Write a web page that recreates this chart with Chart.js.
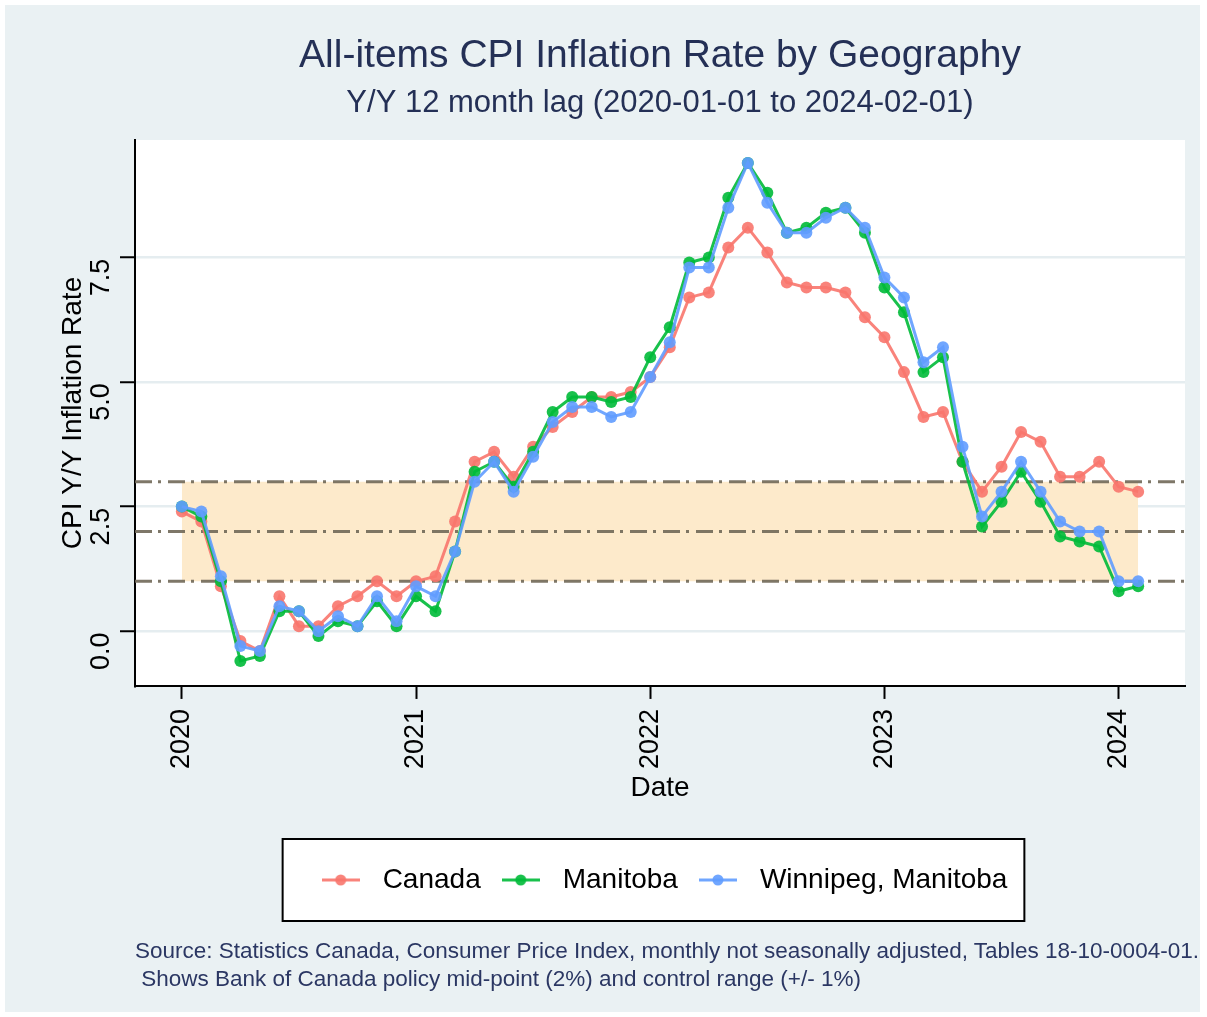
<!DOCTYPE html>
<html>
<head>
<meta charset="utf-8">
<title>All-items CPI Inflation Rate by Geography</title>
<script src="https://cdn.jsdelivr.net/npm/chart.js@4.4.1/dist/chart.umd.min.js"></script>
<style>
  body { margin: 0; width: 1207px; height: 1017px; overflow: hidden; position: relative; background: #fff;
         font-family: "Liberation Sans", Arial, sans-serif; }
  #bg { position: absolute; left: 5px; top: 5px; width: 1195px; height: 1007px; background: #eaf1f3; }
  #wrap { position: absolute; left: 0; top: 0; width: 1207px; height: 940px; }
  #source { position: absolute; left: 135px; top: 937px; font-size: 22.5px; line-height: 28px;
            color: #2b3763; white-space: pre; }
</style>
</head>
<body>
<div id="bg"></div>
<div id="wrap"><canvas id="cpiChart"></canvas></div>
<div id="source">Source: Statistics Canada, Consumer Price Index, monthly not seasonally adjusted, Tables 18-10-0004-01.
 Shows Bank of Canada policy mid-point (2%) and control range (+/- 1%)</div>

<script>
// ---------------- data ----------------
const months = [
  "2020-01", "2020-02", "2020-03", "2020-04", "2020-05", "2020-06", "2020-07", "2020-08", "2020-09", "2020-10", "2020-11", "2020-12",
  "2021-01", "2021-02", "2021-03", "2021-04", "2021-05", "2021-06", "2021-07", "2021-08", "2021-09", "2021-10", "2021-11", "2021-12",
  "2022-01", "2022-02", "2022-03", "2022-04", "2022-05", "2022-06", "2022-07", "2022-08", "2022-09", "2022-10", "2022-11", "2022-12",
  "2023-01", "2023-02", "2023-03", "2023-04", "2023-05", "2023-06", "2023-07", "2023-08", "2023-09", "2023-10", "2023-11", "2023-12",
  "2024-01", "2024-02"
];

const canada = [
  2.4, 2.2, 0.9, -0.2, -0.4, 0.7, 0.1, 0.1, 0.5, 0.7, 1.0, 0.7,
  1.0, 1.1, 2.2, 3.4, 3.6, 3.1, 3.7, 4.1, 4.4, 4.7, 4.7, 4.8,
  5.1, 5.7, 6.7, 6.8, 7.7, 8.1, 7.6, 7.0, 6.9, 6.9, 6.8, 6.3,
  5.9, 5.2, 4.3, 4.4, 3.4, 2.8, 3.3, 4.0, 3.8, 3.1, 3.1, 3.4,
  2.9, 2.8
];

const manitoba = [
  2.5, 2.3, 1.0, -0.6, -0.5, 0.4, 0.4, -0.1, 0.2, 0.1, 0.6, 0.1,
  0.7, 0.4, 1.6, 3.2, 3.4, 2.9, 3.6, 4.4, 4.7, 4.7, 4.6, 4.7,
  5.5, 6.1, 7.4, 7.5, 8.7, 9.4, 8.8, 8.0, 8.1, 8.4, 8.5, 8.0,
  6.9, 6.4, 5.2, 5.5, 3.4, 2.1, 2.6, 3.2, 2.6, 1.9, 1.8, 1.7,
  0.8, 0.9
];

const winnipeg = [
  2.5, 2.4, 1.1, -0.3, -0.4, 0.5, 0.4, 0.0, 0.3, 0.1, 0.7, 0.2,
  0.9, 0.7, 1.6, 3.0, 3.4, 2.8, 3.5, 4.2, 4.5, 4.5, 4.3, 4.4,
  5.1, 5.8, 7.3, 7.3, 8.5, 9.4, 8.6, 8.0, 8.0, 8.3, 8.5, 8.1,
  7.1, 6.7, 5.4, 5.7, 3.7, 2.3, 2.8, 3.4, 2.8, 2.2, 2.0, 2.0,
  1.0, 1.0
];

const seriesNames = ["Canada", "Manitoba", "Winnipeg, Manitoba"];
const yearTicks = [0, 12, 24, 36, 48];          // month index of each January
const yearLabels = ["2020", "2021", "2022", "2023", "2024"];
const rateTicks = [0, 2.5, 5, 7.5];
const controlRange = [1, 3];
const midPoint = 2;
const xRange = [-2.4, 51.4];
const yRange = [-1.1, 9.86];

// ---------------- styles ----------------
const colors = ["rgba(248,118,109,0.9)", "rgba(0,186,56,0.9)", "rgba(97,156,255,0.9)"];
const bandColor = "#fdeacb";
const refLineColor = "rgba(112,104,88,0.9)";
const navy = "#243056";

Chart.defaults.font.family = '"Liberation Sans", Arial, sans-serif';

function toPoints(values) {
  return months.map((m, i) => ({ x: i, y: values[i] }));
}

function legendSymbol(color) {
  const c = document.createElement("canvas");
  c.width = 38;
  c.height = 14;
  const g = c.getContext("2d");
  g.strokeStyle = color;
  g.lineWidth = 3;
  g.beginPath();
  g.moveTo(0, 7);
  g.lineTo(38, 7);
  g.stroke();
  g.fillStyle = color;
  g.beginPath();
  g.arc(19, 7, 5.5, 0, Math.PI * 2);
  g.fill();
  return c;
}
const symbols = colors.map(legendSymbol);

// white plot panel + framed legend box
const panelPlugin = {
  id: "panels",
  beforeDraw(chart) {
    const { ctx, chartArea: a } = chart;
    ctx.save();
    ctx.fillStyle = "#fff";
    ctx.fillRect(a.left, a.top, a.right - a.left, a.bottom - a.top);
    const boxes = chart.legend && chart.legend.legendHitBoxes;
    if (boxes && boxes.length) {
      const left = Math.min(...boxes.map((b) => b.left)) - 30;
      const right = Math.max(...boxes.map((b) => b.left + b.width)) + 17;
      const mid = boxes[0].top + boxes[0].height / 2;
      ctx.fillRect(left, mid - 41, right - left, 82);
      ctx.strokeStyle = "#000";
      ctx.lineWidth = 2;
      ctx.strokeRect(left, mid - 41, right - left, 82);
    }
    ctx.restore();
  },
};

const seriesSets = [canada, manitoba, winnipeg].map((values, i) => ({
  label: seriesNames[i],
  data: toPoints(values),
  borderColor: colors[i],
  backgroundColor: colors[i],
  pointBackgroundColor: colors[i],
  borderWidth: 3,
  pointRadius: 6,
  pointBorderWidth: 0,
  pointHoverRadius: 6,
  order: 3 - i,
}));

const bandSets = [controlRange[1], controlRange[0]].map((v, i) => ({
  label: "band",
  data: [{ x: 0, y: v }, { x: months.length - 1, y: v }],
  borderColor: "transparent",
  backgroundColor: bandColor,
  pointRadius: 0,
  fill: i === 0 ? "+1" : false,
  order: 10,
}));

const refSets = [controlRange[0], midPoint, controlRange[1]].map((v) => ({
  label: "ref",
  data: [{ x: xRange[0], y: v }, { x: xRange[1], y: v }],
  borderColor: refLineColor,
  borderWidth: 3,
  borderDash: [17, 6, 3, 7],
  pointRadius: 0,
  fill: false,
  order: 5,
}));

new Chart(document.getElementById("cpiChart"), {
  type: "line",
  data: { datasets: [...seriesSets, ...bandSets, ...refSets] },
  plugins: [panelPlugin],
  options: {
    responsive: true,
    maintainAspectRatio: false,
    animation: false,
    layout: { padding: { left: 56, right: 22, top: 0, bottom: 36 } },
    scales: {
      x: {
        type: "linear",
        min: xRange[0],
        max: xRange[1],
        afterBuildTicks: (s) => { s.ticks = yearTicks.map((v) => ({ value: v })); },
        ticks: {
          autoSkip: false,
          minRotation: 90,
          maxRotation: 90,
          padding: 10,
          color: "#000",
          font: { size: 27 },
          callback: (v, i) => yearLabels[i],
        },
        grid: { drawOnChartArea: false, tickLength: 13, tickColor: "#000", tickWidth: 2 },
        border: { color: "#000", width: 2 },
        title: { display: true, text: "Date", color: "#000", font: { size: 28 }, padding: { top: -8, bottom: 49.4 } },
      },
      y: {
        min: yRange[0],
        max: yRange[1],
        afterBuildTicks: (s) => { s.ticks = rateTicks.map((v) => ({ value: v })); },
        afterFit: (s) => { s.width = 79; },
        ticks: {
          autoSkip: false,
          minRotation: 90,
          maxRotation: 90,
          crossAlign: "center",
          padding: 0,
          labelOffset: 20,
          color: "#000",
          font: { size: 27 },
          callback: (v) => Number(v).toFixed(1),
        },
        grid: { color: "#e5edf0", lineWidth: 2.5, tickLength: 15, tickColor: "#000", tickWidth: 2 },
        border: { color: "#000", width: 2 },
        title: { display: true, text: "CPI Y/Y Inflation Rate", color: "#000", font: { size: 28 }, padding: 0 },
      },
    },
    plugins: {
      title: {
        display: true,
        fullSize: false,
        text: "All-items CPI Inflation Rate by Geography",
        color: navy,
        font: { size: 39, weight: "normal" },
        padding: { top: 33, bottom: 0 },
      },
      subtitle: {
        display: true,
        fullSize: false,
        text: "Y/Y 12 month lag (2020-01-01 to 2024-02-01)",
        color: navy,
        font: { size: 31, weight: "normal" },
        padding: { top: 5.5, bottom: 17.5 },
      },
      legend: {
        position: "bottom",
        fullSize: false,
        labels: {
          usePointStyle: true,
          pointStyleWidth: 56,
          padding: 12,
          color: "#000",
          font: { size: 28 },
          filter: (item) => item.datasetIndex < 3,
          sort: (a, b) => a.datasetIndex - b.datasetIndex,
          generateLabels: (chart) => {
            const items = Chart.defaults.plugins.legend.labels.generateLabels(chart);
            items.forEach((it) => {
              if (it.datasetIndex < 3) it.pointStyle = symbols[it.datasetIndex];
            });
            return items;
          },
        },
      },
      tooltip: { enabled: false },
    },
  },
});
</script>
</body>
</html>
